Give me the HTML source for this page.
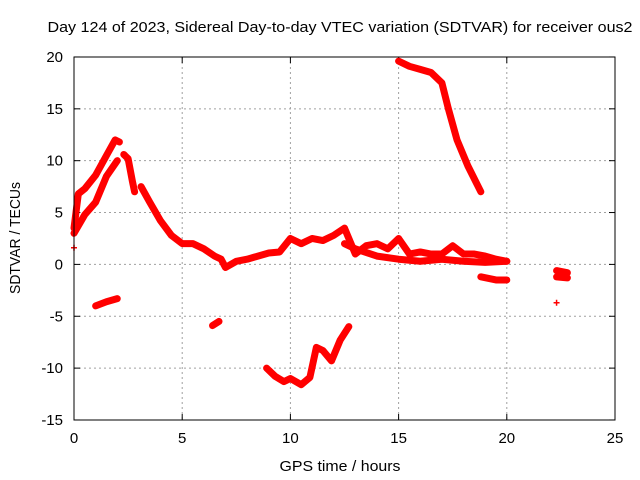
<!DOCTYPE html>
<html><head><meta charset="utf-8"><style>
body{margin:0;background:#fff}
svg{display:block;font-family:"Liberation Sans",sans-serif;font-size:15px}
</style></head><body>
<svg id="chart" width="640" height="480">
<text x="340" y="32" text-anchor="middle" textLength="585" lengthAdjust="spacingAndGlyphs">Day 124 of 2023, Sidereal Day-to-day VTEC variation (SDTVAR) for receiver ous2</text>
<text x="340" y="471" text-anchor="middle" textLength="121" lengthAdjust="spacingAndGlyphs">GPS time / hours</text>
<text transform="translate(20,238) rotate(-90)" text-anchor="middle" textLength="112" lengthAdjust="spacingAndGlyphs">SDTVAR / TECUs</text>
<g id="grid"></g><g id="ticks"></g><g id="marks"></g>
<rect x="74" y="57" width="541" height="363" fill="none" stroke="#000"/>
</svg>
<script>
const xTicks=[0,5,10,15,20,25];
const yTicks=[-15,-10,-5,0,5,10,15,20];
const seriesUpper=[[0,3.5],[0.2,6.8],[0.5,7.3],[1,8.6],[1.5,10.5],[1.9,12],[2.1,11.8]];
const seriesLower=[[0,3],[0.5,4.8],[1,6],[1.5,8.5],[2,10]];
const seriesPeak=[[2.3,10.6],[2.5,10.2],[2.7,8],[2.8,7]];
const seriesMain=[[3.1,7.5],[3.5,6],[4,4.2],[4.5,2.8],[5,2],[5.5,2],[6,1.5],[6.5,0.8],[6.8,0.5],[7,-0.3],[7.5,0.3],[8,0.5],[8.5,0.8],[9,1.1],[9.5,1.2],[10,2.5],[10.5,2],[11,2.5],[11.5,2.3],[12,2.8],[12.5,3.5],[13,1],[13.5,1.8],[14,2],[14.5,1.5],[15,2.5],[15.5,1],[16,1.2],[16.5,1],[17,1],[17.5,1.8],[18,1],[18.5,1],[19,0.8],[19.5,0.5],[20,0.3]];
const seriesBand=[[12.5,2],[13,1.5],[14,0.8],[15,0.5],[16,0.3],[17,0.5],[18,0.3],[19,0.2],[20,0.3]];
const seriesNeg1=[[1,-4],[1.5,-3.6],[2,-3.3]];
const seriesNeg2=[[6.4,-5.9],[6.7,-5.5]];
const seriesDip=[[8.9,-10],[9.3,-10.8],[9.7,-11.3],[10,-11],[10.5,-11.6],[10.9,-10.9],[11.2,-8],[11.5,-8.3],[11.9,-9.3],[12.3,-7.3],[12.7,-6]];
const seriesHigh=[[15,19.6],[15.5,19.1],[16,18.8],[16.5,18.5],[17,17.5],[17.3,15],[17.7,12],[18.2,9.5],[18.8,7]];
const seriesTail=[[18.8,-1.2],[19.5,-1.5],[20,-1.5]];
const seriesLate=[[22.3,-0.6],[22.8,-0.8],[22.3,-1.2],[22.8,-1.3]];
const seriesPoints=[[22.3,-3.7],[0,1.6]];
const ns="http://www.w3.org/2000/svg";
const X=v=>74+v*541/25, Y=v=>264.4-v*363/35;
const grid=document.getElementById('grid'),ticks=document.getElementById('ticks'),marks=document.getElementById('marks');
function mk(tag,attrs,parent){const e=document.createElementNS(ns,tag);for(const k in attrs)e.setAttribute(k,attrs[k]);parent.appendChild(e);return e;}
xTicks.forEach(t=>{const x=X(t);
 if(t>0&&t<25){const g=mk('line',{x1:x,x2:x,y1:57,y2:420,stroke:'#a0a0a0','stroke-dasharray':'2,3'},grid);
 
 }
 mk('line',{x1:x,x2:x,y1:420,y2:414,stroke:'#000'},ticks);mk('line',{x1:x,x2:x,y1:57,y2:63,stroke:'#000'},ticks);
 const l=mk('text',{x:x,y:443,'text-anchor':'middle'},ticks);l.textContent=t;
 
 });
yTicks.forEach(t=>{const y=Y(t);
 if(t>-15&&t<20){const g=mk('line',{x1:74,x2:615,y1:y,y2:y,stroke:'#a0a0a0','stroke-dasharray':'2,3'},grid);
 
 }
 mk('line',{x1:74,x2:80,y1:y,y2:y,stroke:'#000'},ticks);mk('line',{x1:615,x2:609,y1:y,y2:y,stroke:'#000'},ticks);
 const l=mk('text',{x:63,y:y+5,'text-anchor':'end'},ticks);l.textContent=t;
 
 });
[seriesUpper,seriesLower,seriesPeak,seriesMain,seriesBand,seriesNeg1,seriesNeg2,seriesDip,seriesHigh,seriesTail,seriesLate].forEach(s=>{
 const p=mk('polyline',{points:s.map(d=>X(d[0])+','+Y(d[1])).join(' '),fill:'none',stroke:'#ff0000','stroke-width':7,'stroke-linejoin':'round','stroke-linecap':'round'},marks);
 
 });
seriesPoints.forEach(d=>{const x=X(d[0]),y=Y(d[1]);
 const p=mk('path',{d:`M${x-3},${y}H${x+3}M${x},${y-3}V${y+3}`,stroke:'#ff0000','stroke-width':1.5},marks);
 
 });
</script>
</body></html>
